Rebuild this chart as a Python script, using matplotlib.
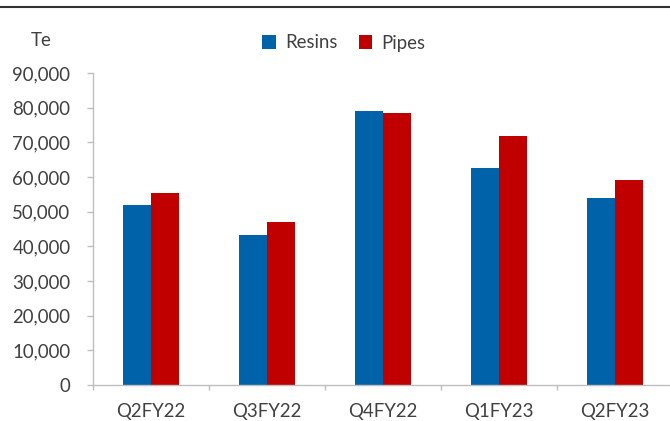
import matplotlib
matplotlib.use("Agg")
import matplotlib.pyplot as plt
import numpy as np
from matplotlib.patches import Patch
from matplotlib.lines import Line2D
from matplotlib.ticker import FuncFormatter, FixedLocator

categories = ["Q2FY22", "Q3FY22", "Q4FY22", "Q1FY23", "Q2FY23"]
resins = [51900, 43300, 79100, 62600, 53900]
pipes = [55300, 46900, 78500, 71800, 59100]
series_names = ["Resins", "Pipes"]
y_ticks = [0, 10000, 20000, 30000, 40000, 50000, 60000, 70000, 80000, 90000]
unit_label = "Te"

BLUE = "#0062A9"
RED = "#C00000"
TEXT = "#404040"
AXIS = "#BFBFBF"
FS = 13.4

plt.rcParams["font.family"] = ["Lato", "DejaVu Sans"]

fig = plt.figure(figsize=(6.70, 4.21), dpi=100)
W, H = 670, 421
ax = fig.add_axes([93 / W, 1 - 385 / H, (673 - 93) / W, (385 - 73) / H])

x = np.arange(len(categories))
bw = 0.238
ax.bar(x - bw / 2, resins, width=bw, color=BLUE, label=series_names[0])
ax.bar(x + bw / 2, pipes, width=bw, color=RED, label=series_names[1])

ax.set_xlim(-0.5, len(categories) - 0.5)
ax.set_ylim(0, 90000)

for s in ["top", "right"]:
    ax.spines[s].set_visible(False)
for s in ["left", "bottom"]:
    ax.spines[s].set_color(AXIS)
    ax.spines[s].set_linewidth(1.0)

ax.set_yticks(y_ticks)
ax.yaxis.set_major_formatter(FuncFormatter(lambda v, p: f"{int(v):,}"))
ax.tick_params(axis="y", length=4.3, width=1.0, color=AXIS, labelsize=FS,
               labelcolor=TEXT, pad=12)

ax.set_xticks(x)
ax.set_xticklabels(categories)
ax.xaxis.set_minor_locator(FixedLocator(np.arange(len(categories) + 1) - 0.5))
ax.tick_params(axis="x", which="major", length=0, labelsize=FS,
               labelcolor=TEXT, pad=13)
ax.tick_params(axis="x", which="minor", length=3.6, width=1.0, color=AXIS)

fig.text(41 / W, 1 - 40 / H, unit_label, ha="center", va="center",
         fontsize=FS, color=TEXT)

handles = [Patch(facecolor=BLUE, label=series_names[0]),
           Patch(facecolor=RED, label=series_names[1])]
fig.legend(handles=handles, loc="center", bbox_to_anchor=(344 / W, 1 - 43 / H),
           ncol=2, frameon=False, fontsize=FS, handlelength=0.72,
           handleheight=0.72, handletextpad=0.5, columnspacing=1.15,
           labelcolor=TEXT)

fig.add_artist(Line2D([0, 1], [1 - 7 / H, 1 - 7 / H], color="#333333",
                      lw=1.5, transform=fig.transFigure))

fig.savefig("out.png", dpi=100)
